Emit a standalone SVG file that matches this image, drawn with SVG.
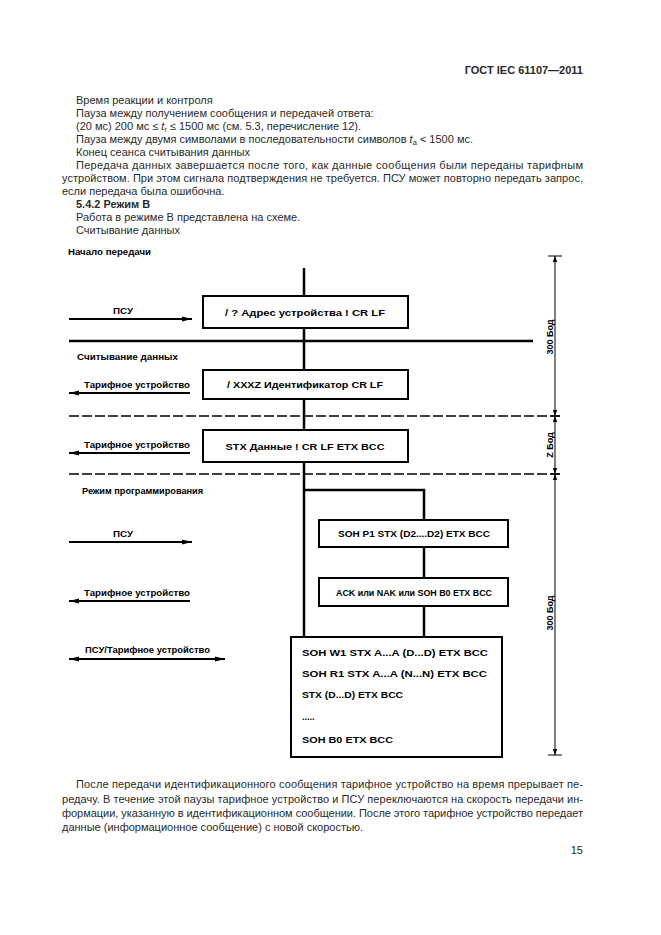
<svg xmlns="http://www.w3.org/2000/svg" width="661" height="935" viewBox="0 0 661 935">
<style>
  .body { font-family: "Liberation Sans", Arial, sans-serif; font-size: 11px; fill: #2a2a2a; }
  .bold { font-weight: bold; }
  .dg { font-family: "Liberation Sans", Arial, sans-serif; font-size: 9px; font-weight: bold; fill: #000; }
  .dim { font-family: "Liberation Sans", Arial, sans-serif; font-size: 9px; font-weight: bold; fill: #000; }
  .box { fill: #fff; stroke: #000; stroke-width: 2; }
  .thick { stroke: #000; stroke-width: 2.5; fill: none; }
  .arr { stroke: #000; stroke-width: 1.8; fill: none; }
  .dash { stroke: #000; stroke-width: 1.3; stroke-dasharray: 10 3; fill: none; }
  .thin { stroke: #000; stroke-width: 1; fill: none; }
</style>
<defs>
  <marker id="ah" viewBox="0 0 10 6" refX="10" refY="3" markerWidth="10" markerHeight="6" markerUnits="userSpaceOnUse" orient="auto-start-reverse">
    <path d="M0,0.6 L10,3 L0,5.4 Z" fill="#000"/>
  </marker>
  <marker id="dh" viewBox="0 0 6 6" refX="6" refY="3" markerWidth="6" markerHeight="6" markerUnits="userSpaceOnUse" orient="auto-start-reverse">
    <path d="M0,0.8 L6,3 L0,5.2 Z" fill="#000"/>
  </marker>
</defs>

<rect x="0" y="0" width="661" height="935" fill="#fff"/>

<g id="page-text">
  <text class="body bold" x="583" y="74" text-anchor="end" font-size="10.5">ГОСТ IEC 61107—2011</text>
  <text class="body" x="76" y="104">Время реакции и контроля</text>
  <text class="body" x="76" y="117">Пауза между получением сообщения и передачей ответа:</text>
  <text class="body" x="76" y="130">(20 мс) 200 мс ≤ <tspan font-style="italic">t</tspan><tspan font-size="7" dy="2">r</tspan><tspan dy="-2"> ≤ 1500 мс (см. 5.3, перечисление 12).</tspan></text>
  <text class="body" x="76" y="143">Пауза между двумя символами в последовательности символов <tspan font-style="italic">t</tspan><tspan font-size="7.5" dy="2">a</tspan><tspan dy="-2"> &lt; 1500 мс.</tspan></text>
  <text class="body" x="76" y="156">Конец сеанса считывания данных</text>
  <text class="body" x="76" y="169" textLength="507" lengthAdjust="spacing">Передача данных завершается после того, как данные сообщения были переданы тарифным</text>
  <text class="body" x="62" y="182" textLength="521" lengthAdjust="spacing">устройством. При этом сигнала подтверждения не требуется. ПСУ может повторно передать запрос,</text>
  <text class="body" x="62" y="195">если передача была ошибочна.</text>
  <text class="body bold" x="76" y="208">5.4.2 Режим В</text>
  <text class="body" x="76" y="221">Работа в режиме В представлена на схеме.</text>
  <text class="body" x="76" y="234">Считывание данных</text>

  <text class="body" x="76" y="788" textLength="507" lengthAdjust="spacing">После передачи идентификационного сообщения тарифное устройство на время прерывает пе-</text>
  <text class="body" x="62" y="803" textLength="521" lengthAdjust="spacing">редачу. В течение этой паузы тарифное устройство и ПСУ переключаются на скорость передачи ин-</text>
  <text class="body" x="62" y="817" textLength="521" lengthAdjust="spacing">формации, указанную в идентификационном сообщении. После этого тарифное устройство передает</text>
  <text class="body" x="62" y="831">данные (информационное сообщение) с новой скоростью.</text>
  <text class="body" x="583" y="854" text-anchor="end">15</text>
</g>

<g id="connectors">
  <line class="thick" x1="304" y1="268" x2="304" y2="637"/>
  <polyline class="thick" points="304,490 424,490 424,637"/>
  <line class="thick" x1="69" y1="341" x2="533" y2="341"/>
  <line class="dash" x1="69" y1="416" x2="560" y2="416"/>
  <line class="dash" x1="69" y1="474" x2="560" y2="474"/>

  <line class="arr" x1="69" y1="319" x2="192" y2="319" marker-end="url(#ah)"/>
  <line class="arr" x1="190" y1="393" x2="69" y2="393" marker-end="url(#ah)"/>
  <line class="arr" x1="190" y1="453" x2="69" y2="453" marker-end="url(#ah)"/>
  <line class="arr" x1="69" y1="542" x2="192" y2="542" marker-end="url(#ah)"/>
  <line class="arr" x1="190" y1="601" x2="69" y2="601" marker-end="url(#ah)"/>
  <line class="arr" x1="69" y1="659" x2="225" y2="659" marker-start="url(#ah)" marker-end="url(#ah)"/>

  <line class="thin" x1="555" y1="256" x2="555" y2="416" marker-start="url(#dh)" marker-end="url(#dh)"/>
  <line class="thin" x1="555" y1="416" x2="555" y2="474" marker-start="url(#dh)" marker-end="url(#dh)"/>
  <line class="thin" x1="555" y1="474" x2="555" y2="755" marker-start="url(#dh)" marker-end="url(#dh)"/>
  <line class="thin" x1="548" y1="256" x2="562" y2="256" stroke-width="1.3"/>
  <line class="thin" x1="550" y1="416" x2="560" y2="416" stroke-width="1.5"/>
  <line class="thin" x1="550" y1="474" x2="560" y2="474" stroke-width="1.5"/>
  <line class="thin" x1="548" y1="755" x2="562" y2="755" stroke-width="1.5"/>
</g>

<g id="labels">
  <text class="dg" x="68" y="255" textLength="83" lengthAdjust="spacingAndGlyphs">Начало передачи</text>
  <text class="dg" x="123" y="314" text-anchor="middle" textLength="20" lengthAdjust="spacingAndGlyphs">ПСУ</text>
  <text class="dg" x="77" y="360" textLength="101" lengthAdjust="spacingAndGlyphs">Считывание данных</text>
  <text class="dg" x="84" y="388" textLength="106" lengthAdjust="spacingAndGlyphs">Тарифное устройство</text>
  <text class="dg" x="84" y="448" textLength="106" lengthAdjust="spacingAndGlyphs">Тарифное устройство</text>
  <text class="dg" x="82" y="494" textLength="121" lengthAdjust="spacingAndGlyphs">Режим программирования</text>
  <text class="dg" x="123" y="537" text-anchor="middle" textLength="20" lengthAdjust="spacingAndGlyphs">ПСУ</text>
  <text class="dg" x="84" y="596" textLength="106" lengthAdjust="spacingAndGlyphs">Тарифное устройство</text>
  <text class="dg" x="85" y="653" textLength="125" lengthAdjust="spacingAndGlyphs">ПСУ/Тарифное устройство</text>

  <text class="dim" transform="translate(553,337) rotate(-90)" text-anchor="middle">300 Бод</text>
  <text class="dim" transform="translate(553,445) rotate(-90)" text-anchor="middle">Z Бод</text>
  <text class="dim" transform="translate(553,613) rotate(-90)" text-anchor="middle">300 Бод</text>
</g>

<g id="node-addr">
  <rect class="box" x="203" y="296" width="205" height="32"/>
  <text class="dg" x="305" y="315.5" text-anchor="middle" textLength="160" lengthAdjust="spacingAndGlyphs">/  ?  Адрес устройства  !  CR  LF</text>
</g>
<g id="node-ident">
  <rect class="box" x="203" y="370" width="205" height="29"/>
  <text class="dg" x="305" y="388" text-anchor="middle" textLength="156" lengthAdjust="spacingAndGlyphs">/ XXXZ  Идентификатор  CR  LF</text>
</g>
<g id="node-data">
  <rect class="box" x="203" y="430" width="205" height="32"/>
  <text class="dg" x="305" y="449.5" text-anchor="middle" textLength="159" lengthAdjust="spacingAndGlyphs">STX  Данные  !  CR  LF  ETX  BCC</text>
</g>
<g id="node-p1">
  <rect class="box" x="319" y="520" width="189" height="27"/>
  <text class="dg" x="414" y="537" text-anchor="middle" textLength="152" lengthAdjust="spacingAndGlyphs">SOH P1 STX (D2....D2) ETX BCC</text>
</g>
<g id="node-ack">
  <rect class="box" x="319" y="578" width="189" height="28"/>
  <text class="dg" x="414" y="595.5" text-anchor="middle" textLength="156" lengthAdjust="spacingAndGlyphs">ACK или NAK или SOH B0 ETX BCC</text>
</g>
<g id="node-prog">
  <rect class="box" x="291" y="637" width="211" height="120"/>
  <text class="dg" x="302" y="656" textLength="186" lengthAdjust="spacingAndGlyphs">SOH W1 STX   A...A  (D...D)  ETX  BCC</text>
  <text class="dg" x="302" y="677" textLength="185" lengthAdjust="spacingAndGlyphs">SOH R1 STX   A...A  (N...N)  ETX  BCC</text>
  <text class="dg" x="302" y="698" textLength="101" lengthAdjust="spacingAndGlyphs">STX (D...D)  ETX  BCC</text>
  <text class="dg" x="302" y="720">.....</text>
  <text class="dg" x="302" y="743" textLength="91" lengthAdjust="spacingAndGlyphs">SOH B0  ETX  BCC</text>
</g>
</svg>
